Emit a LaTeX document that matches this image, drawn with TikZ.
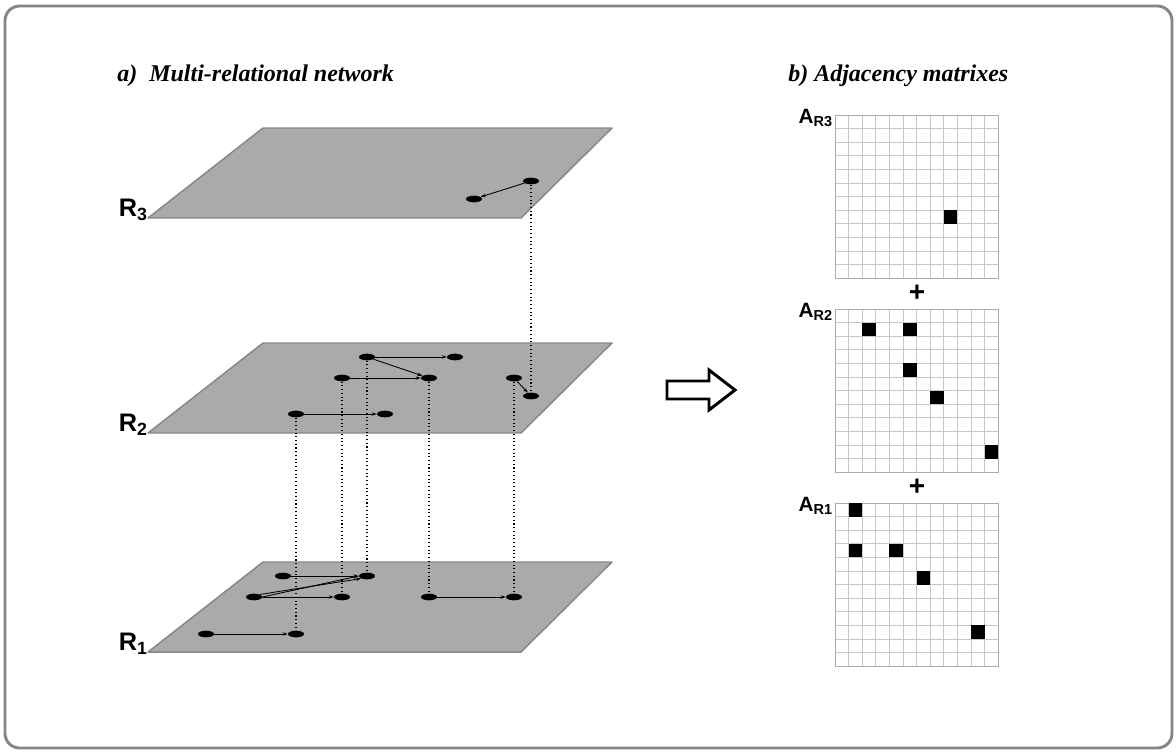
\documentclass[tikz,border=0pt]{standalone}
\usepackage{fontspec}
\setmainfont{Liberation Serif}
\setsansfont{Liberation Sans}
\usetikzlibrary{shapes.geometric,arrows.meta}

\definecolor{planefill}{HTML}{AAAAAA}
\definecolor{planeedge}{HTML}{878787}
\definecolor{framegray}{HTML}{858585}

\begin{document}
\begin{tikzpicture}
  [x=0.75pt, y=-0.75pt,
   vert/.style={ellipse, fill=black, inner sep=0pt, minimum width=12pt, minimum height=5pt},
   rel/.style={-{Stealth[length=3.8pt,width=2.6pt]}, line width=0.65pt},
   link/.style={dotted, line width=0.8pt},
   plane/.style={fill=planefill, draw=planeedge, line width=1.1pt, line join=round},
   heading/.style={font=\fontsize{18}{21}\selectfont\bfseries\itshape, anchor=base west, inner sep=0pt},
   rlabel/.style={font=\fontsize{19}{22}\selectfont\sffamily\bfseries, anchor=base east, inner sep=0pt},
   alabel/.style={font=\fontsize{15.5}{18}\selectfont\sffamily\bfseries, anchor=base east, inner sep=0pt},
   plus/.style={font=\fontsize{21}{22}\selectfont\sffamily\bfseries, inner sep=0pt},
   gridline/.style={draw=gray!45, line width=0.5pt},
   gridframe/.style={draw=gray!65, line width=0.7pt}]
  \useasboundingbox (0,0) rectangle (1176,751);
  \draw[framegray, line width=2.2pt, rounded corners=11pt] (5,6) rectangle (1172,748);

  \node[heading] (ttla) at (117,81) {a)~~Multi-relational network};
  \node[heading] (ttlb) at (788,81) {b) Adjacency matrixes};

  % the three relation layers
  \foreach \lbl/\top in {3/128, 2/343, 1/562} {
    \draw[plane] (148,{\top+90}) -- (521,{\top+90}) -- (612,\top) -- (263,\top) -- cycle;
    \node[rlabel] (lay\lbl) at (148,{\top+88}) {R\textsubscript{\lbl}};
  }

  % R3
  \node[vert] (r3a) at (531,181) {};
  \node[vert] (r3b) at (474,199) {};
  \draw[rel] (r3a) -- (r3b);

  % R2
  \node[vert] (r2a) at (367,357) {};
  \node[vert] (r2b) at (455,357) {};
  \node[vert] (r2c) at (342,378) {};
  \node[vert] (r2d) at (429,378) {};
  \node[vert] (r2e) at (514,378) {};
  \node[vert] (r2f) at (531,396) {};
  \node[vert] (r2g) at (296,414) {};
  \node[vert] (r2h) at (385,414) {};
  \draw[rel] (r2a) -- (r2b);
  \draw[rel] (r2a) -- (r2d);
  \draw[rel] (r2c) -- (r2d);
  \draw[rel] (r2e) -- (r2f);
  \draw[rel] (r2g) -- (r2h);

  % R1
  \node[vert] (r1a) at (283,576) {};
  \node[vert] (r1b) at (367,576) {};
  \node[vert] (r1c) at (254,597) {};
  \node[vert] (r1d) at (342,597) {};
  \node[vert] (r1e) at (429,597) {};
  \node[vert] (r1f) at (514,597) {};
  \node[vert] (r1g) at (206,634) {};
  \node[vert] (r1h) at (296,634) {};
  \draw[rel] (r1a) -- (r1b);
  \draw[rel] (r1c.north east) -- (r1b.south west);
  \draw[rel] (r1c.east) -- (r1b.west);
  \draw[rel] (r1c) -- (r1d);
  \draw[rel] (r1e) -- (r1f);
  \draw[rel] (r1g) -- (r1h);

  % same entity across layers
  \draw[link] (r3a) -- (r2f);
  \draw[link] (r2g) -- (r1h);
  \draw[link] (r2c) -- (r1d);
  \draw[link] (r2a) -- (r1b);
  \draw[link] (r2d) -- (r1e);
  \draw[link] (r2e) -- (r1f);

  \draw[line width=2.2pt, line join=miter] (667,381) -- (709,381) -- (709,370) -- (735,390)
    -- (709,410) -- (709,399) -- (667,399) -- cycle;

  % 12x12 adjacency grids
  \foreach \top/\lbl in {115/3, 309/2, 503/1} {
    \begin{scope}[shift={(835,\top)}]
      \foreach \i in {1,...,11} {
        \draw[gridline] ({\i*13.6},0) -- ({\i*13.6},163.2);
        \draw[gridline] (0,{\i*13.6}) -- (163.2,{\i*13.6});
      }
      \draw[gridframe] (0,0) rectangle (163.2,163.2);
      \node[alabel] (mat\lbl) at (-2,8) {A\textsubscript{R\lbl}};
    \end{scope}
  }
  \foreach \top/\c/\r in {115/8/7, 309/2/1, 309/5/1, 309/5/4, 309/7/6, 309/11/10,
                          503/1/0, 503/1/3, 503/4/3, 503/6/5, 503/10/9}
    \fill ({835+\c*13.6},{\top+\r*13.6}) rectangle ++(13.6,13.6);

  \node[plus] (sum1) at (917,293) {+};
  \node[plus] (sum2) at (917,487) {+};
\end{tikzpicture}
\end{document}
